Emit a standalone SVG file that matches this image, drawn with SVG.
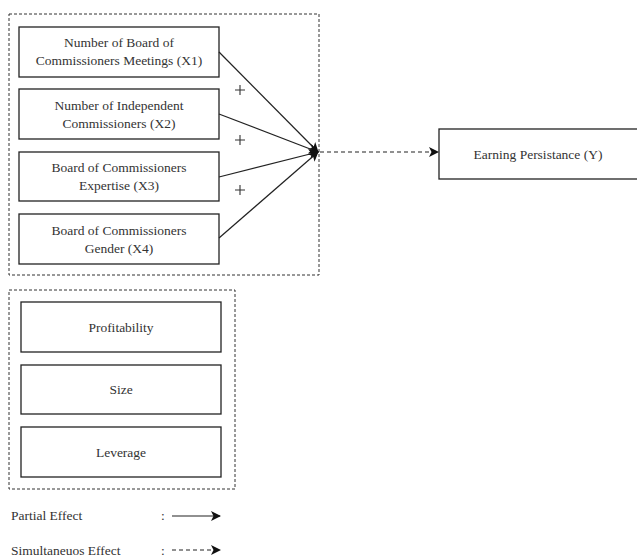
<svg xmlns="http://www.w3.org/2000/svg" width="637" height="557" viewBox="0 0 637 557">
<style>
.box{fill:#fff;stroke:#222;stroke-width:1.3}
.grp{fill:none;stroke:#333;stroke-width:1;stroke-dasharray:3,2}
.t{font-size:13.5px;fill:#333;text-anchor:middle}
.l{font-size:13.5px;fill:#333}
.ln{stroke:#222;stroke-width:1.2;fill:none}
.dl{stroke:#222;stroke-width:1.2;fill:none;stroke-dasharray:4,3}
</style>
<defs>
<marker id="ah" markerWidth="12" markerHeight="12" refX="9" refY="5" orient="auto" markerUnits="userSpaceOnUse">
<path d="M0,0 L10,5 L0,10 L2.5,5 Z" fill="#111"/>
</marker>
</defs>
<g font-family="Liberation Serif, Tinos, Times New Roman, Times, DejaVu Serif, serif">
<rect id="group-x" class="grp" x="9" y="14" width="310" height="261"/>
<rect id="group-control" class="grp" x="9" y="290" width="226" height="199"/>
<g id="x1"><rect class="box" x="19" y="27" width="200" height="50"/><text class="t" x="119" y="47">Number of Board of</text><text class="t" x="119" y="65">Commissioners Meetings (X1)</text></g>
<g id="x2"><rect class="box" x="19" y="89" width="200" height="50"/><text class="t" x="119" y="110">Number of Independent</text><text class="t" x="119" y="128">Commissioners (X2)</text></g>
<g id="x3"><rect class="box" x="19" y="152" width="200" height="49"/><text class="t" x="119" y="172">Board of Commissioners</text><text class="t" x="119" y="190">Expertise (X3)</text></g>
<g id="x4"><rect class="box" x="19" y="214" width="200" height="50"/><text class="t" x="119" y="235">Board of Commissioners</text><text class="t" x="119" y="253">Gender (X4)</text></g>
<g id="y"><rect class="box" x="439" y="129" width="210" height="50"/><text class="t" x="538" y="159">Earning Persistance (Y)</text></g>
<g id="profitability"><rect class="box" x="21" y="302" width="200" height="50"/><text class="t" x="121" y="332">Profitability</text></g>
<g id="size"><rect class="box" x="21" y="365" width="200" height="49"/><text class="t" x="121" y="394">Size</text></g>
<g id="leverage"><rect class="box" x="21" y="427" width="200" height="50"/><text class="t" x="121" y="457">Leverage</text></g>
<g id="connectors">
<line class="ln" x1="219" y1="52" x2="318" y2="152" marker-end="url(#ah)"/>
<line class="ln" x1="219" y1="114" x2="318" y2="152" marker-end="url(#ah)"/>
<line class="ln" x1="219" y1="177" x2="318" y2="152" marker-end="url(#ah)"/>
<line class="ln" x1="219" y1="238" x2="318" y2="152" marker-end="url(#ah)"/>
<line class="dl" x1="320" y1="152" x2="438" y2="152" marker-end="url(#ah)"/>
</g>
<g id="plus" stroke="#333" stroke-width="1.1">
<path d="M235,90 h10 M240,85 v10"/>
<path d="M235,140 h10 M240,135 v10"/>
<path d="M235,190 h10 M240,185 v10"/>
</g>
<g id="legend">
<text class="l" x="11" y="520">Partial Effect</text>
<text class="l" x="161" y="520">:</text>
<line class="ln" x1="172" y1="516" x2="220" y2="516" marker-end="url(#ah)"/>
<text class="l" x="11" y="555">Simultaneuos Effect</text>
<text class="l" x="161" y="555">:</text>
<line class="dl" x1="172" y1="550" x2="220" y2="550" marker-end="url(#ah)"/>
</g>
</g>
</svg>
